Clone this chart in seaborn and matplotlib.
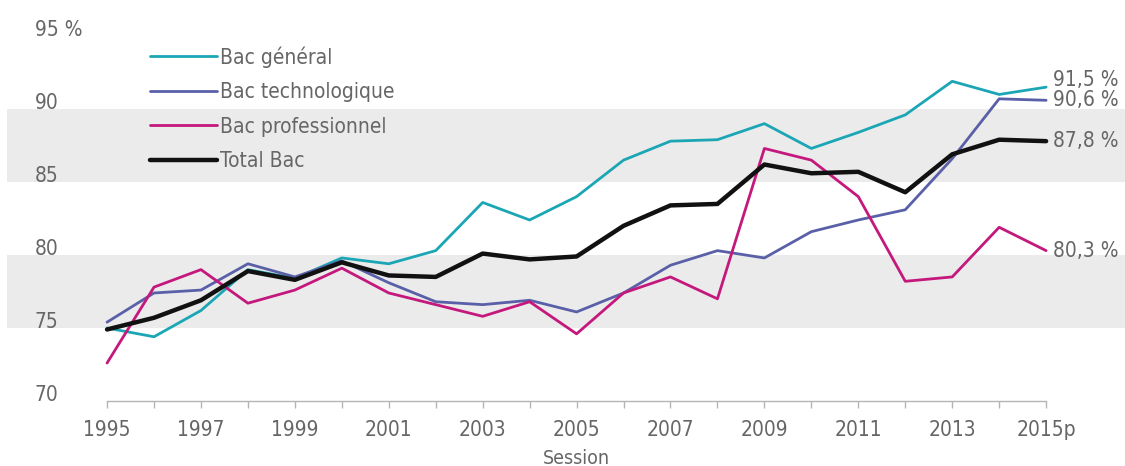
import pandas as pd
import numpy as np
import matplotlib
matplotlib.use("Agg")
import matplotlib.pyplot as plt
import seaborn as sns

# taux de reussite au bac par serie, sessions 1995 a 2015 (2015 provisoire)
annees = list(range(1995, 2016))
bac_general = [75.0, 74.4, 76.2, 79.0, 78.4, 79.8, 79.4, 80.3, 83.6, 82.4, 84.0,
               86.5, 87.8, 87.9, 89.0, 87.3, 88.4, 89.6, 91.9, 91.0, 91.5]
bac_techno = [75.4, 77.4, 77.6, 79.4, 78.5, 79.6, 78.1, 76.8, 76.6, 76.9, 76.1,
              77.4, 79.3, 80.3, 79.8, 81.6, 82.4, 83.1, 86.6, 90.7, 90.6]
bac_pro = [72.6, 77.8, 79.0, 76.7, 77.6, 79.1, 77.4, 76.6, 75.8, 76.8, 74.6,
           77.4, 78.5, 77.0, 87.3, 86.5, 84.0, 78.2, 78.5, 81.9, 80.3]
total_bac = [74.9, 75.7, 76.9, 78.9, 78.3, 79.5, 78.6, 78.5, 80.1, 79.7, 79.9,
             82.0, 83.4, 83.5, 86.2, 85.6, 85.7, 84.3, 86.9, 87.9, 87.8]

series = ["Bac général", "Bac technologique", "Bac professionnel", "Total Bac"]
x_labels = [str(a) if a % 2 == 1 else "" for a in annees]
x_labels[-1] = "2015p"
y_ticks = [70, 75, 80, 85, 90, 95]
y_labels = ["70", "75", "80", "85", "90", "95 %"]

df = pd.DataFrame({"annee": annees, "Bac général": bac_general,
                   "Bac technologique": bac_techno, "Bac professionnel": bac_pro,
                   "Total Bac": total_bac})
df_long = df.melt(id_vars="annee", var_name="serie", value_name="taux")

colors = {"Bac général": "#1ba6b5", "Bac technologique": "#5a60a8",
          "Bac professionnel": "#c4187d", "Total Bac": "#111111"}
widths = {"Bac général": 2.0, "Bac technologique": 2.0,
          "Bac professionnel": 2.0, "Total Bac": 3.2}

sns.set_theme(style="white")
plt.rcParams["font.family"] = ["DejaVu Sans Condensed", "DejaVu Sans"]
plt.rcParams["font.stretch"] = "condensed"
text_col = "#666666"

fig = plt.figure(figsize=(11.25, 4.66), dpi=100)
ax = fig.add_axes([0, 65 / 466, 1, 401 / 466])

#grey bands behind the lines
for lo, hi in [(75, 80), (85, 90)]:
    ax.axhspan(lo, hi, xmin=7 / 1125, xmax=1, color="#ebebeb", lw=0, zorder=0)

for s in series:
    sns.lineplot(data=df_long[df_long["serie"] == s], x="annee", y="taux",
                 color=colors[s], linewidth=widths[s], label=s, ax=ax,
                 zorder=3 if s == "Total Bac" else 2)

#end labels
offsets = {"Bac général": 5, "Bac technologique": 0, "Bac professionnel": 0, "Total Bac": 0}
for s in series:
    v = df[s].iloc[-1]
    ax.annotate(f"{v:.1f}".replace(".", ",") + " %", xy=(annees[-1], v),
                xytext=(5, offsets[s]), textcoords="offset points",
                va="center", ha="left", fontsize=15, color=text_col)

ax.set_xlim(1992.72, 2016.68)
ax.set_ylim(70, 97.47)

ax.set_xticks(annees)
ax.set_xticklabels(x_labels)
ax.set_yticks(y_ticks)
ax.set_yticklabels(y_labels)
ax.tick_params(axis="x", direction="out", length=5, width=1, color="#b5b5b5",
               pad=9, labelsize=15, labelcolor=text_col, bottom=True)
ax.tick_params(axis="y", length=0, pad=-25, labelsize=15, labelcolor=text_col)
for lab in ax.get_yticklabels():
    lab.set_horizontalalignment("left")
    lab.set_verticalalignment("baseline")

for sp in ["top", "right", "left"]:
    ax.spines[sp].set_visible(False)
ax.spines["bottom"].set_color("#b5b5b5")
ax.spines["bottom"].set_linewidth(1)
ax.spines["bottom"].set_bounds(1995, 2015)
ax.grid(False)

ax.set_ylabel("")
ax.set_xlabel("Session", fontsize=14, color=text_col, va="top")
ax.xaxis.set_label_coords(576 / 1125, -0.12)

leg = ax.legend(loc="upper left", bbox_to_anchor=(150 / 1125, 1 - 46 / 466),
                bbox_transform=fig.transFigure, frameon=False, fontsize=15,
                handlelength=3.2, handletextpad=0.15, labelspacing=0.7,
                borderpad=0, borderaxespad=0)
for t in leg.get_texts():
    t.set_color(text_col)

fig.savefig("out.png", dpi=100)
